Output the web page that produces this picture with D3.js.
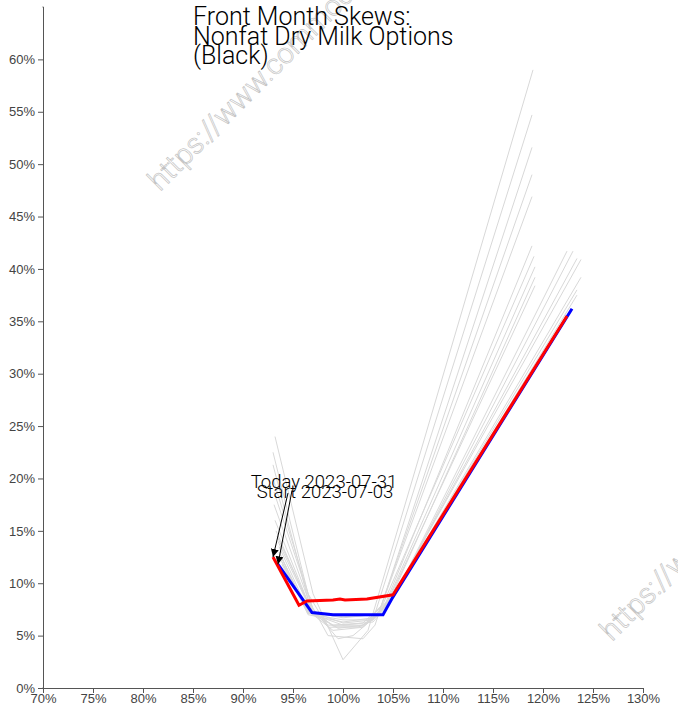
<!DOCTYPE html>
<html>
<head>
<meta charset="utf-8">
<script src="https://cdn.jsdelivr.net/npm/d3@7"></script>
<style>
  body { margin: 0; background: #fff; }
  svg { font-family: Roboto, "DejaVu Sans", sans-serif; }
  .axis text { font-size: 13px; fill: #444; font-weight: 300; }
  .axis path, .axis line { stroke: #555; }
</style>
</head>
<body>
<div id="chart"></div>
<script>
// title lines
const titleLines = ["Front Month Skews:", "Nonfat Dry Milk Options", "(Black)"];

// axis ticks (percent)
const xTicks = [70, 75, 80, 85, 90, 95, 100, 105, 110, 115, 120, 125, 130];
const yTicks = [0, 5, 10, 15, 20, 25, 30, 35, 40, 45, 50, 55, 60];

// start skew 2023-07-03: [moneyness %, implied vol %]
const startSkew = [[93.5, 11.8], [96.9, 7.2], [99.0, 7.0], [104.0, 7.0], [105.0, 8.7], [122.9, 36.2]];
// today skew 2023-07-31
const todaySkew = [[93.0, 12.5], [95.6, 7.9], [96.4, 8.3], [99.0, 8.4], [99.7, 8.5], [100.2, 8.4], [102.4, 8.5], [105.0, 8.9], [122.4, 35.5]];

// daily skews in between (grey)
const historySkews = [
  [[93.2, 24.0], [97.0, 9.0], [100.0, 2.7], [102.5, 5.5], [119.0, 59.0]],
  [[93.0, 22.5], [96.5, 9.0], [98.5, 5.8], [101.5, 5.8], [103.0, 6.5], [118.9, 54.7]],
  [[93.0, 21.3], [96.5, 8.5], [98.5, 5.0], [102.0, 4.7], [103.2, 6.0], [118.9, 51.6]],
  [[93.0, 20.0], [97.0, 7.5], [99.0, 5.9], [102.0, 5.9], [103.5, 7.0], [118.9, 49.0]],
  [[93.1, 18.7], [97.0, 7.5], [99.5, 4.7], [101.0, 5.0], [103.5, 7.0], [118.9, 46.9]],
  [[93.1, 17.5], [97.0, 7.2], [98.5, 6.0], [102.0, 6.0], [104.0, 7.5], [118.9, 42.2]],
  [[93.2, 16.0], [97.0, 7.0], [99.0, 6.0], [102.0, 6.2], [104.0, 8.0], [119.1, 41.2]],
  [[93.3, 15.0], [97.0, 7.0], [99.0, 5.5], [102.0, 5.8], [104.3, 8.0], [119.2, 40.2]],
  [[93.4, 14.5], [97.0, 7.2], [99.5, 5.7], [102.0, 6.0], [104.5, 8.0], [119.2, 39.2]],
  [[93.5, 14.0], [97.0, 7.0], [100.0, 6.5], [102.5, 6.5], [104.5, 8.3], [119.2, 38.4]],
  [[93.6, 13.5], [96.5, 7.4], [100.0, 6.2], [103.0, 6.5], [105.0, 8.5], [122.4, 41.7]],
  [[93.6, 13.0], [96.5, 7.2], [100.0, 6.0], [103.0, 6.3], [105.0, 8.5], [123.0, 41.7]],
  [[93.7, 12.8], [96.5, 7.0], [100.0, 6.3], [103.0, 6.7], [105.0, 8.7], [123.4, 41.0]],
  [[93.8, 12.5], [96.5, 7.3], [100.0, 6.7], [103.0, 7.0], [105.0, 8.8], [123.8, 40.9]],
  [[93.8, 12.2], [96.5, 7.3], [100.0, 6.8], [103.5, 7.0], [105.0, 8.8], [123.8, 39.2]],
  [[93.9, 12.0], [96.5, 7.2], [100.0, 6.9], [103.5, 7.0], [105.0, 8.8], [123.4, 38.0]],
  [[93.9, 11.8], [96.5, 7.1], [100.0, 6.9], [103.5, 7.0], [105.0, 8.8], [123.4, 37.5]]
];

const annotationLabels = ["Today 2023-07-31", "Start 2023-07-03"];
const watermarkText = "https://www.commodityoptions.com";

const width = 678, height = 719;
const margin = {top: 7, right: 35, bottom: 31, left: 43};

const svg = d3.select("#chart").append("svg")
  .attr("width", width)
  .attr("height", height);

const x = d3.scaleLinear().domain([70, 130]).range([margin.left, width - margin.right]);
const y = d3.scaleLinear().domain([0, 65]).range([height - margin.bottom, margin.top]);

// watermarks
[[160, 192], [612, 642]].forEach(p => {
  svg.append("text")
    .attr("transform", `translate(${p[0]},${p[1]}) rotate(-45)`)
    .attr("font-size", 29)
    .attr("font-weight", 300)
    .attr("fill", "#fff")
    .attr("stroke", "#c4c4c4")
    .attr("stroke-width", 0.7)
    .text(watermarkText);
});

// axes
svg.append("g")
  .attr("class", "axis")
  .attr("transform", `translate(0,${y(0)})`)
  .call(d3.axisBottom(x).tickValues(xTicks).tickSize(5).tickFormat(d => d + "%"))
  .call(g => g.selectAll("text").attr("dy", "0.55em"));

svg.append("g")
  .attr("class", "axis")
  .attr("transform", `translate(${x(70)},0)`)
  .call(d3.axisLeft(y).tickValues(yTicks).tickSize(5).tickFormat(d => d + "%"))
  .call(g => g.select(".domain").attr("d", `M-0.5,${y(65)}H0.5V${y(0)}H-0.5`));

const line = d3.line()
  .x(d => x(d[0]))
  .y(d => y(d[1]));

svg.append("g").selectAll("path")
  .data(historySkews)
  .enter().append("path")
  .attr("d", line)
  .attr("fill", "none")
  .attr("stroke", "#d8d8d8")
  .attr("stroke-width", 1);

svg.append("path")
  .datum(startSkew)
  .attr("d", line)
  .attr("fill", "none")
  .attr("stroke", "#0000ff")
  .attr("stroke-width", 3);

svg.append("path")
  .datum(todaySkew)
  .attr("d", line)
  .attr("fill", "none")
  .attr("stroke", "#ff0000")
  .attr("stroke-width", 3);

// arrow annotations
svg.append("defs").append("marker")
  .attr("id", "arrow")
  .attr("viewBox", "0 0 10 10")
  .attr("refX", 10).attr("refY", 5)
  .attr("markerWidth", 8).attr("markerHeight", 8)
  .attr("markerUnits", "userSpaceOnUse")
  .attr("orient", "auto")
  .append("path")
  .attr("d", "M0,0L10,5L0,10z")
  .attr("fill", "#000");

const notes = [
  {label: annotationLabels[0], pt: todaySkew[0], dx: 51, dy: -69, ax: -36, ay: 5},
  {label: annotationLabels[1], pt: startSkew[0], dx: 47, dy: -66, ax: -33, ay: -8}
];

notes.forEach(n => {
  const px = x(n.pt[0]), py = y(n.pt[1]);
  const tx = px + n.dx, ty = py + n.dy;
  svg.append("line")
    .attr("x1", tx + n.ax).attr("y1", ty + n.ay)
    .attr("x2", px).attr("y2", py)
    .attr("stroke", "#000")
    .attr("stroke-width", 1)
    .attr("marker-end", "url(#arrow)");
  svg.append("text")
    .attr("x", tx).attr("y", ty)
    .attr("text-anchor", "middle")
    .attr("font-size", 18.5)
    .attr("font-weight", 300)
    .attr("fill", "#000")
    .text(n.label);
});

// title
svg.append("text")
  .attr("x", 193).attr("y", 25)
  .attr("font-size", 25)
  .attr("font-weight", 300)
  .attr("fill", "#000")
  .selectAll("tspan")
  .data(titleLines)
  .enter().append("tspan")
  .attr("x", 193)
  .attr("dy", (d, i) => i === 0 ? 0 : 19.5)
  .text(d => d);
</script>
</body>
</html>
